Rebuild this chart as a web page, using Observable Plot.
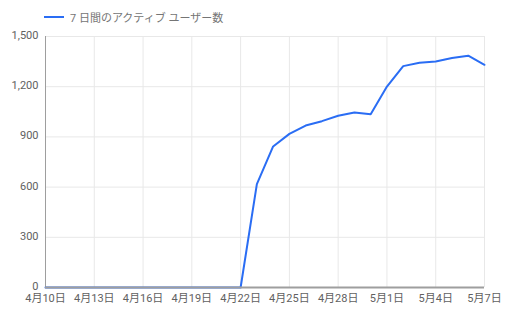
<!DOCTYPE html>
<html><head><meta charset="utf-8">
<script src="https://cdn.jsdelivr.net/npm/d3@7"></script>
<script src="https://cdn.jsdelivr.net/npm/@observablehq/plot@0.6"></script>
<style>
body{margin:0;background:#fff;font-family:Roboto,"Noto Sans CJK JP",sans-serif}
#wrap{position:relative;width:510px;height:315px}
#legend{position:absolute;left:44px;top:9px;font-size:11px;color:#757575;display:flex;align-items:center;font-family:Roboto,"Noto Sans CJK JP",sans-serif}
#legend .sw{display:inline-block;width:20px;height:2px;background:#2a6df4;margin-right:6px}
#chart{position:absolute;left:0;top:0}
</style>
</head><body>
<div id="wrap"><div id="chart"></div><div id="legend"><span class="sw"></span><span id="lt"></span></div></div>
<script>
const seriesName = "7 日間のアクティブ ユーザー数";
const dates = ["2021-04-10","2021-04-11","2021-04-12","2021-04-13","2021-04-14","2021-04-15","2021-04-16","2021-04-17","2021-04-18","2021-04-19","2021-04-20","2021-04-21","2021-04-22","2021-04-23","2021-04-24","2021-04-25","2021-04-26","2021-04-27","2021-04-28","2021-04-29","2021-04-30","2021-05-01","2021-05-02","2021-05-03","2021-05-04","2021-05-05","2021-05-06","2021-05-07"];
const users = [0,0,0,0,0,0,0,0,0,0,0,0,0,618,843,918,968,994,1026,1046,1036,1201,1323,1343,1351,1371,1385,1331];
const xTickDates = ["2021-04-10","2021-04-13","2021-04-16","2021-04-19","2021-04-22","2021-04-25","2021-04-28","2021-05-01","2021-05-04","2021-05-07"];
const yTicks = [0,300,600,900,1200,1500];

document.getElementById("lt").textContent = seriesName;
const parse = s => new Date(s + "T00:00:00Z");
const data = dates.map((d,i) => ({date: parse(d), value: users[i]}));
const xTicks = xTickDates.map(parse);
const fmtX = d => `${d.getUTCMonth()+1}月${d.getUTCDate()}日`;

const chart = Plot.plot({
  width: 510, height: 315,
  marginTop: 36, marginBottom: 28, marginLeft: 45, marginRight: 26,
  style: {fontFamily: 'Roboto,"Noto Sans CJK JP",sans-serif', fontSize: "11px", background: "#fff"},
  x: {type: "utc", domain: [xTicks[0], xTicks[xTicks.length-1]]},
  y: {domain: [0, 1500]},
  marks: [
    Plot.gridY(yTicks, {stroke: "#e8e8e8", strokeOpacity: 1}),
    Plot.gridX(xTicks, {stroke: "#e8e8e8", strokeOpacity: 1}),
    Plot.ruleX([xTicks[0]], {stroke: "#9e9e9e"}),
    Plot.line(data, {x: "date", y: "value", stroke: "#2a6df4", strokeWidth: 2}),
    Plot.ruleY([0], {stroke: "#9e9e9e", strokeWidth: 2}),
    Plot.axisY(yTicks, {tickSize: 0, tickPadding: 7, dy: -1, tickFormat: d3.format(","), color: "#616161", label: null}),
    Plot.axisX(xTicks, {tickSize: 0, tickPadding: 7, tickFormat: fmtX, color: "#616161", label: null})
  ]
});
document.getElementById("chart").appendChild(chart);
</script>
</body></html>
